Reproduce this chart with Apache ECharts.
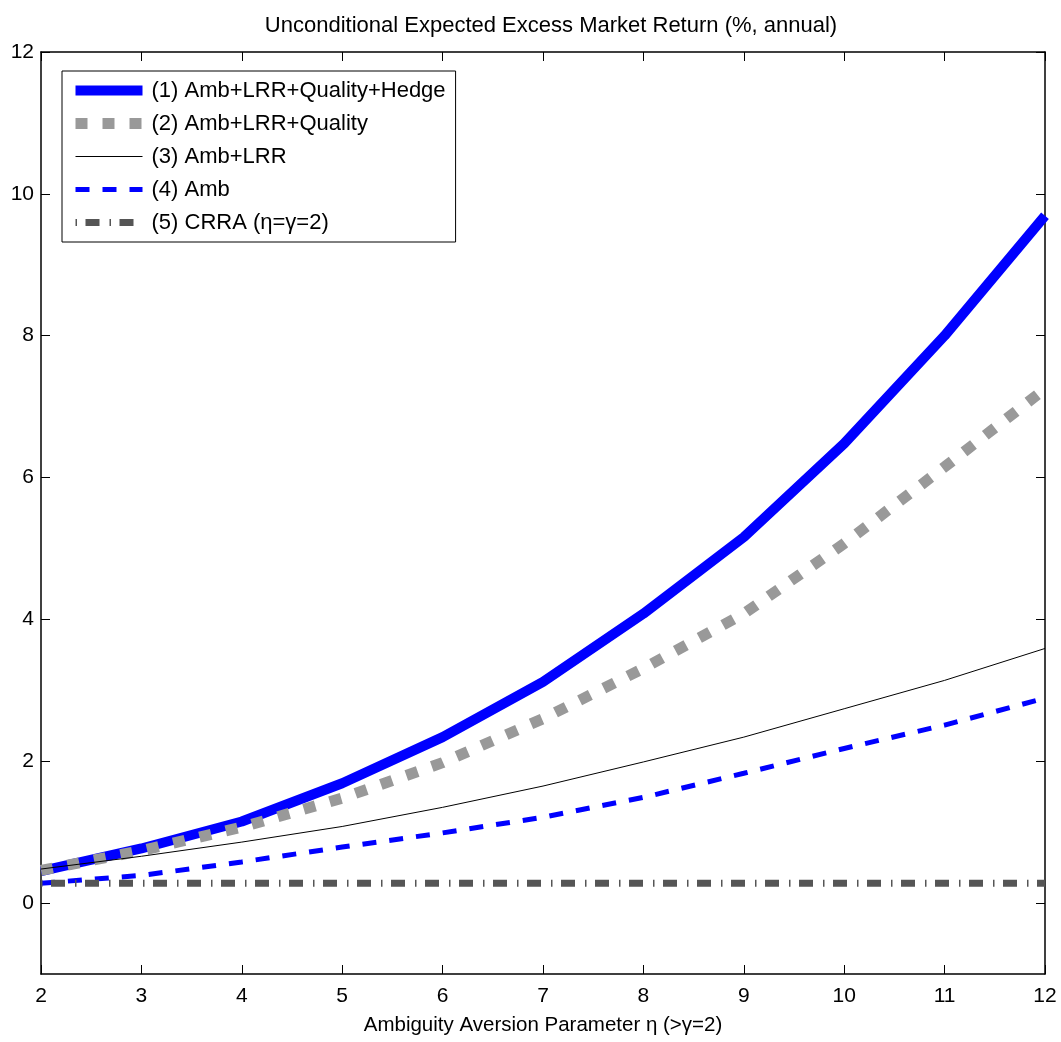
<!DOCTYPE html>
<html lang="en">
<head>
    <meta charset="UTF-8">
    <title>echarts</title>
    <style>
        html, body { margin: 0; padding: 0; background: #fff; }
    </style>
    <script src="https://cdn.jsdelivr.net/npm/echarts@6/dist/echarts.min.js"></script>
</head>
<body>
    <div id="main" style="width:1061px;height:1042px"></div>
    <script>
        var eta = [2, 3, 4, 5, 6, 7, 8, 9, 10, 11, 12];
        var ambLrrQualHedge = [0.45, 0.77, 1.15, 1.69, 2.34, 3.12, 4.08, 5.16, 6.48, 8.0, 9.69];
        var ambLrrQual = [0.46, 0.74, 1.07, 1.48, 1.98, 2.6, 3.31, 4.08, 5.07, 6.15, 7.25];
        var ambLrr = [0.48, 0.66, 0.86, 1.08, 1.35, 1.65, 1.99, 2.34, 2.74, 3.14, 3.59];
        var amb = [0.28, 0.39, 0.58, 0.79, 0.99, 1.21, 1.49, 1.83, 2.18, 2.51, 2.89];
        var crra = [0.28, 0.28, 0.28, 0.28, 0.28, 0.28, 0.28, 0.28, 0.28, 0.28, 0.28];
        var yTicks = [0, 2, 4, 6, 8, 10, 12];
        var names = ['(1) Amb+LRR+Quality+Hedge', '(2) Amb+LRR+Quality', '(3) Amb+LRR', '(4) Amb', '(5) CRRA (η=γ=2)'];

        function pairs(ys) {
            var out = [];
            for (var i = 0; i < eta.length; i++) out.push([eta[i], ys[i]]);
            return out;
        }

        var font = 'Liberation Sans, Arial, sans-serif';
        var myChart = echarts.init(document.getElementById('main'));

        // line looks, shared by the series and their legend samples
        var looks = [
            { color: '#0000ff', width: 10, type: 'solid' },
            { color: '#999999', width: 11, type: [12, 15], cap: 'butt' },
            { color: '#000000', width: 1, type: 'solid' },
            { color: '#0000ff', width: 5, type: [14, 13] },
            { color: '#555555', width: 7, type: [1.5, 8.5, 14, 10] }
        ];
        var values = [ambLrrQualHedge, ambLrrQual, ambLrr, amb, crra];

        var series = [], legendData = [];
        for (var k = 0; k < names.length; k++) {
            series.push({
                name: names[k], type: 'line', data: pairs(values[k]), symbol: 'none',
                lineStyle: looks[k], itemStyle: { color: looks[k].color }
            });
            legendData.push({
                name: names[k],
                lineStyle: looks[k],
                itemStyle: { opacity: 0 }
            });
        }

        var xBase = {
            type: 'value', min: 2, max: 12, interval: 1,
            axisLine: { onZero: false, lineStyle: { color: '#000', width: 1.5 } },
            axisTick: { inside: true, length: 9, lineStyle: { color: '#000', width: 1 } },
            splitLine: { show: false }
        };
        var yBase = {
            type: 'value', min: -1, max: 12,
            axisLine: { show: true, onZero: false, lineStyle: { color: '#000', width: 1.5 } },
            axisTick: { show: true, inside: true, length: 9, customValues: yTicks, lineStyle: { color: '#000', width: 1 } },
            splitLine: { show: false }
        };

        var option = {
            animation: false,
            backgroundColor: '#fff',
            title: {
                text: 'Unconditional Expected Excess Market Return (%, annual)',
                left: 546, top: 10, textAlign: 'center',
                textStyle: { fontFamily: font, fontSize: 22, fontWeight: 'normal', color: '#000' }
            },
            grid: { left: 41, right: 16, top: 52, bottom: 68 },
            legend: {
                orient: 'vertical', left: 62, top: 71,
                data: legendData,
                itemWidth: 67, itemHeight: 14, itemGap: 10,
                padding: [8, 10, 8, 8],
                borderColor: '#000', borderWidth: 1, backgroundColor: '#fff',
                textStyle: { fontFamily: font, fontSize: 22, color: '#000', lineHeight: 23, padding: [0, 0, 0, 4] }
            },
            xAxis: [
                Object.assign({}, xBase, {
                    position: 'bottom',
                    name: 'Ambiguity Aversion Parameter η (>γ=2)',
                    nameLocation: 'middle', nameGap: 41,
                    nameTextStyle: { fontFamily: font, fontSize: 20.5, color: '#000' },
                    axisLabel: { fontFamily: font, fontSize: 21, color: '#000', margin: 12 }
                }),
                Object.assign({}, xBase, { position: 'top', axisLabel: { show: false } })
            ],
            yAxis: [
                Object.assign({}, yBase, {
                    position: 'left',
                    axisLabel: { fontFamily: font, fontSize: 21, color: '#000', margin: 7, customValues: yTicks }
                }),
                Object.assign({}, yBase, { position: 'right', axisLabel: { show: false } })
            ],
            series: series
        };
        myChart.setOption(option);
    </script>
</body>
</html>
